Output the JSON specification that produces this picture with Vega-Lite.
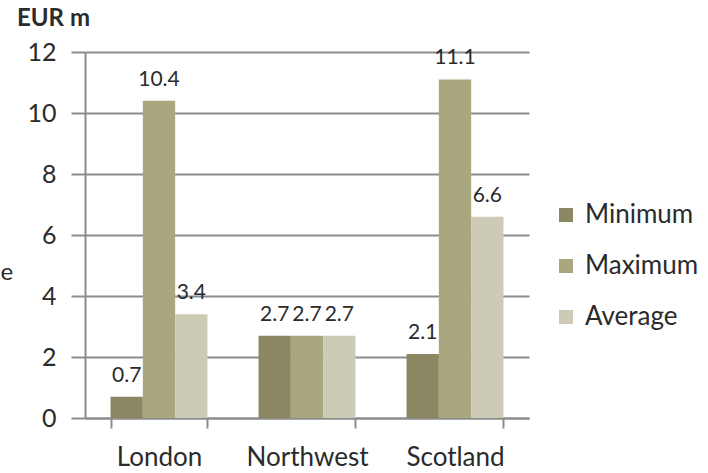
{
  "$schema": "https://vega.github.io/schema/vega-lite/v6.json",
  "width": 444,
  "height": 366,
  "autosize": {"type": "none"},
  "padding": {"left": 85, "top": 52, "right": 179, "bottom": 55},
  "background": "white",
  "title": {
    "text": "EUR m",
    "anchor": "start",
    "frame": "group",
    "dx": -68,
    "offset": 9,
    "fontSize": 24,
    "fontWeight": "bold",
    "font": "Lato",
    "color": "#2b2b2b"
  },
  "data": {
    "values": [
      {"region": "London", "measure": "Minimum", "value": 0.7},
      {"region": "London", "measure": "Maximum", "value": 10.4},
      {"region": "London", "measure": "Average", "value": 3.4},
      {"region": "Northwest", "measure": "Minimum", "value": 2.7},
      {"region": "Northwest", "measure": "Maximum", "value": 2.7},
      {"region": "Northwest", "measure": "Average", "value": 2.7},
      {"region": "Scotland", "measure": "Minimum", "value": 2.1},
      {"region": "Scotland", "measure": "Maximum", "value": 11.1},
      {"region": "Scotland", "measure": "Average", "value": 6.6}
    ]
  },
  "config": {
    "view": {"stroke": null},
    "font": "Lato"
  },
  "encoding": {
    "x": {
      "field": "region",
      "type": "nominal",
      "sort": ["London", "Northwest", "Scotland"],
      "scale": {"paddingInner": 0.345, "paddingOuter": 0.1725},
      "axis": {
        "title": null,
        "labelAngle": 0,
        "labelFontSize": 26,
        "labelColor": "#2b2b2b",
        "labelPadding": 16,
        "domainColor": "#8c8c8c",
        "domainWidth": 2,
        "tickColor": "#8c8c8c",
        "tickWidth": 2,
        "tickSize": 10,
        "tickBand": "extent",
        "grid": false
      }
    },
    "xOffset": {
      "field": "measure",
      "type": "nominal",
      "sort": ["Minimum", "Maximum", "Average"]
    },
    "y": {
      "field": "value",
      "type": "quantitative",
      "scale": {"domain": [0, 12]},
      "axis": {
        "values": [0, 2, 4, 6, 8, 10, 12],
        "title": "e",
        "titleAngle": 0,
        "titleAlign": "left",
        "titleBaseline": "middle",
        "titleX": -85,
        "titleY": 220,
        "titleFontSize": 24,
        "titleFontWeight": "normal",
        "titleColor": "#2b2b2b",
        "labelFontSize": 25,
        "labelColor": "#2b2b2b",
        "labelPadding": 15,
        "domainColor": "#8c8c8c",
        "domainWidth": 2,
        "tickColor": "#8c8c8c",
        "tickWidth": 2,
        "tickSize": 14,
        "grid": true,
        "gridColor": "#8c8c8c",
        "gridWidth": 2
      }
    }
  },
  "layer": [
    {
      "mark": {"type": "bar"},
      "encoding": {
        "color": {
          "field": "measure",
          "type": "nominal",
          "sort": ["Minimum", "Maximum", "Average"],
          "scale": {
            "domain": ["Minimum", "Maximum", "Average"],
            "range": ["#8B8763", "#A9A77D", "#CDCAB6"]
          },
          "legend": {
            "title": null,
            "orient": "none",
            "legendX": 468,
            "legendY": 150,
            "symbolType": "square",
            "symbolSize": 196,
            "symbolStrokeWidth": 0,
            "labelFontSize": 26,
            "labelColor": "#2b2b2b",
            "labelOffset": 6,
            "rowPadding": 25
          }
        }
      }
    },
    {
      "mark": {
        "type": "text",
        "baseline": "alphabetic",
        "dy": -15,
        "fontSize": 21,
        "color": "#2b2b2b"
      },
      "encoding": {
        "text": {"field": "value", "type": "quantitative", "format": ".1f"}
      }
    }
  ]
}
